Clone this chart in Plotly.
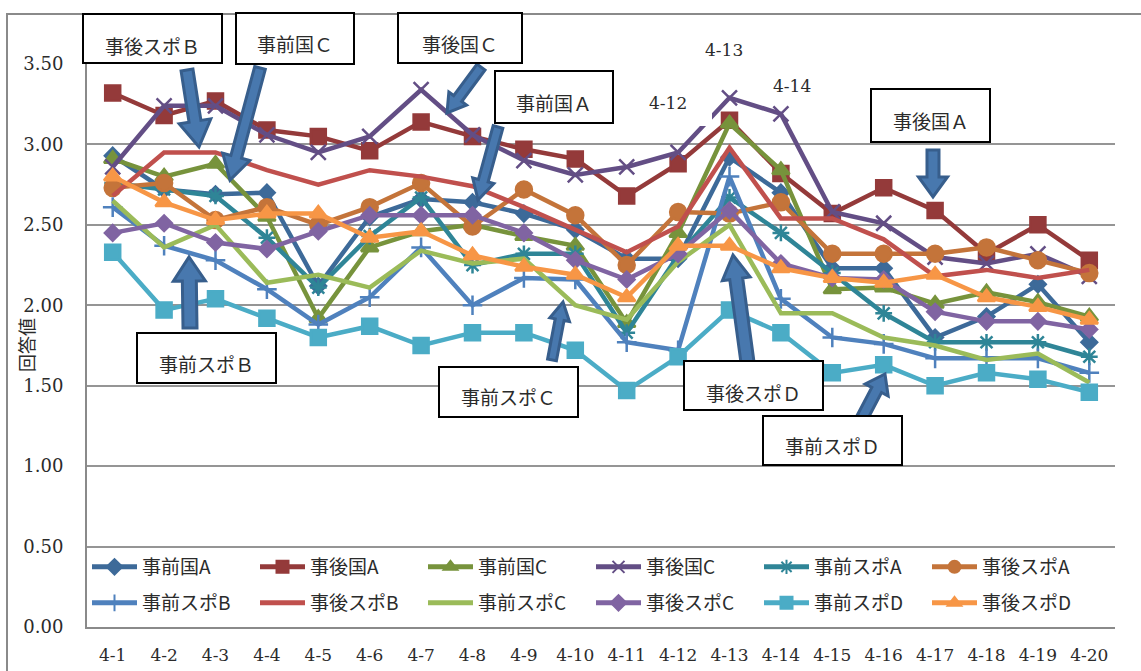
import math
import plotly.graph_objects as go

# Survey days
dates = ["4-1", "4-2", "4-3", "4-4", "4-5", "4-6", "4-7", "4-8", "4-9", "4-10",
         "4-11", "4-12", "4-13", "4-14", "4-15", "4-16", "4-17", "4-18", "4-19", "4-20"]

# Mean answer values per group
pre_koku_a = [2.93, 2.72, 2.69, 2.70, 2.12, 2.55, 2.66, 2.64, 2.57, 2.47,
              2.29, 2.29, 2.92, 2.70, 2.23, 2.23, 1.80, 1.93, 2.13, 1.77]
post_koku_a = [3.32, 3.18, 3.27, 3.09, 3.05, 2.96, 3.14, 3.05, 2.97, 2.91,
               2.68, 2.88, 3.15, 2.82, 2.57, 2.73, 2.59, 2.32, 2.50, 2.28]
pre_koku_c = [2.91, 2.80, 2.88, 2.55, 1.92, 2.36, 2.46, 2.50, 2.43, 2.37,
              1.89, 2.45, 3.13, 2.84, 2.10, 2.11, 2.01, 2.08, 2.02, 1.93]
post_koku_c = [2.86, 3.24, 3.24, 3.06, 2.95, 3.05, 3.34, 3.06, 2.90, 2.81,
               2.86, 2.95, 3.29, 3.19, 2.58, 2.51, 2.30, 2.26, 2.32, 2.18]
pre_spo_a = [2.76, 2.72, 2.68, 2.42, 2.11, 2.43, 2.67, 2.25, 2.32, 2.32,
             1.83, 2.31, 2.67, 2.45, 2.20, 1.95, 1.77, 1.77, 1.77, 1.68]
post_spo_a = [2.73, 2.76, 2.53, 2.61, 2.50, 2.61, 2.76, 2.49, 2.72, 2.56,
              2.25, 2.58, 2.57, 2.64, 2.32, 2.32, 2.32, 2.36, 2.28, 2.20]
pre_spo_b = [2.61, 2.37, 2.28, 2.10, 1.88, 2.05, 2.36, 2.00, 2.17, 2.16,
             1.77, 1.72, 2.80, 2.04, 1.80, 1.76, 1.67, 1.67, 1.67, 1.58]
post_spo_b = [2.68, 2.95, 2.95, 2.84, 2.75, 2.84, 2.80, 2.74, 2.61, 2.47,
              2.33, 2.49, 2.98, 2.54, 2.54, 2.41, 2.18, 2.22, 2.17, 2.22]
pre_spo_c = [2.65, 2.36, 2.50, 2.14, 2.19, 2.11, 2.34, 2.26, 2.29, 2.00,
             1.91, 2.27, 2.50, 1.95, 1.95, 1.80, 1.75, 1.66, 1.70, 1.52]
post_spo_c = [2.45, 2.51, 2.39, 2.35, 2.46, 2.56, 2.56, 2.56, 2.45, 2.28,
              2.16, 2.32, 2.59, 2.26, 2.17, 2.16, 1.96, 1.90, 1.90, 1.85]
pre_spo_d = [2.33, 1.97, 2.04, 1.92, 1.80, 1.87, 1.75, 1.83, 1.83, 1.72,
             1.47, 1.68, 1.97, 1.83, 1.58, 1.63, 1.50, 1.58, 1.54, 1.46]
post_spo_d = [2.80, 2.64, 2.53, 2.57, 2.57, 2.42, 2.46, 2.31, 2.24, 2.19,
              2.05, 2.37, 2.37, 2.23, 2.17, 2.14, 2.19, 2.05, 1.99, 1.91]

y_ticks = [0.0, 0.5, 1.0, 1.5, 2.0, 2.5, 3.0, 3.5]

# (name, values, colour, marker symbol, marker size, legend row)
series = [
    ("事前国A", pre_koku_a, "#3D6A99", "diamond", 12, "legend"),
    ("事後国A", post_koku_a, "#943A3A", "square", 15, "legend"),
    ("事前国C", pre_koku_c, "#77933C", "triangle-up", 15, "legend"),
    ("事後国C", post_koku_c, "#634E85", "x-thin-open", 15, "legend"),
    ("事前スポA", pre_spo_a, "#2F8597", "asterisk-open", 14, "legend"),
    ("事後スポA", post_spo_a, "#C4743A", "circle", 16, "legend"),
    ("事前スポB", pre_spo_b, "#4F81BD", "cross-thin-open", 14, "legend2"),
    ("事後スポB", post_spo_b, "#C0504D", None, 0, "legend2"),
    ("事前スポC", pre_spo_c, "#9BBB59", None, 0, "legend2"),
    ("事後スポC", post_spo_c, "#8064A2", "diamond", 12, "legend2"),
    ("事前スポD", pre_spo_d, "#4BACC6", "square", 15, "legend2"),
    ("事後スポD", post_spo_d, "#F79646", "triangle-up", 15, "legend2"),
]

W, H = 1141, 671
L, R, T, B = 87, 1115, 64, 627

JP = "Noto Sans CJK JP"
SERIF = "DejaVu Serif"


def px(x):
    return (x - L) / (R - L)


def py(y):
    return (B - y) / (B - T)


fig = go.Figure()
for name, vals, color, sym, size, lg in series:
    if sym is None:
        mode = "lines"
        marker = None
    else:
        mode = "lines+markers"
        marker = dict(symbol=sym, size=size, color=color,
                      line=dict(color=color, width=2.5))
    fig.add_trace(go.Scatter(
        x=dates, y=vals, name=name, mode=mode,
        line=dict(color=color, width=4.5),
        marker=marker, legend=lg,
    ))

shapes = []
annotations = []

# outer chart frame
shapes.append(dict(type="rect", xref="paper", yref="paper",
                   x0=px(7), x1=px(1170), y0=py(700), y1=py(14),
                   line=dict(color="#8A8A8A", width=2), layer="below"))

# gap behind the day labels on the top gridline
shapes.append(dict(type="rect", xref="paper", yref="paper",
                   x0=px(683), x1=px(832), y0=py(70), y1=py(40),
                   fillcolor="white", line=dict(width=0), layer="between"))
# white background of the 4-12 label
shapes.append(dict(type="rect", xref="paper", yref="paper",
                   x0=px(630), x1=px(712), y0=py(126), y1=py(82),
                   fillcolor="white", line=dict(width=0), layer="above"))


def block_arrow(x0, y0, x1, y1, ws, wh, hl):
    dx, dy = x1 - x0, y1 - y0
    n = math.hypot(dx, dy)
    ux, uy = dx / n, dy / n
    nx, ny = -uy, ux
    bx, by = x1 - ux * hl, y1 - uy * hl
    pts = [
        (x0 + nx * ws / 2, y0 + ny * ws / 2),
        (bx + nx * ws / 2, by + ny * ws / 2),
        (bx + nx * wh / 2, by + ny * wh / 2),
        (x1, y1),
        (bx - nx * wh / 2, by - ny * wh / 2),
        (bx - nx * ws / 2, by - ny * ws / 2),
        (x0 - nx * ws / 2, y0 - ny * ws / 2),
    ]
    path = "M " + " L ".join(f"{px(a):.5f},{py(b):.5f}" for a, b in pts) + " Z"
    return dict(type="path", xref="paper", yref="paper", path=path,
                fillcolor="#4878AE", line=dict(color="#375E8C", width=3),
                layer="above")


# callout arrows: tail -> tip (pixel positions), shaft width, head width, head length
arrows = [
    (187, 70, 199, 147, 12, 32, 26),
    (260, 68, 230, 180, 11, 28, 24),
    (481, 67, 447, 113, 10, 22, 18),
    (498, 127, 478, 200, 10, 22, 20),
    (933, 150, 933, 197, 12, 29, 20),
    (190, 328, 189, 257, 14, 32, 24),
    (552, 360, 563, 302, 9, 20, 18),
    (748, 366, 733, 255, 13, 28, 24),
    (862, 418, 885, 374, 11, 26, 18),
]
for a in arrows:
    shapes.append(block_arrow(*a))

# callout boxes: text, left, top, right, bottom, text y
boxes = [
    ("事後スポＢ", 83, 14, 222, 63, 45),
    ("事前国Ｃ", 236, 13, 354, 64, 43),
    ("事後国Ｃ", 398, 13, 522, 63, 43),
    ("事前国Ａ", 495, 71, 613, 123, 102),
    ("事後国Ａ", 871, 89, 990, 142, 120),
    ("事前スポＢ", 137, 333, 276, 383, 363),
    ("事前スポＣ", 439, 367, 578, 417, 397),
    ("事後スポＤ", 684, 361, 823, 410, 392),
    ("事前スポＤ", 763, 416, 902, 465, 445),
]
for text, x0, y0, x1, y1, ty in boxes:
    shapes.append(dict(type="rect", xref="paper", yref="paper",
                       x0=px(x0), x1=px(x1), y0=py(y1), y1=py(y0),
                       fillcolor="white", line=dict(color="black", width=2),
                       layer="above"))
    annotations.append(dict(text=text, xref="paper", yref="paper",
                            x=px((x0 + x1) / 2), y=py(ty), showarrow=False,
                            xanchor="center", yanchor="middle",
                            font=dict(family=JP, size=19, color="#2b2b2b")))

# day labels near the peak
for text, x, y in [("4-12", 668, 103), ("4-13", 724, 50), ("4-14", 792, 86)]:
    annotations.append(dict(text=text, xref="paper", yref="paper",
                            x=px(x), y=py(y), showarrow=False,
                            xanchor="center", yanchor="middle",
                            font=dict(family=SERIF, size=17, color="#2b2b2b")))

# value axis title
annotations.append(dict(text="回答値", xref="paper", yref="paper",
                        x=px(26), y=py(345), showarrow=False, textangle=-90,
                        xanchor="center", yanchor="middle",
                        font=dict(family=JP, size=18, color="#2b2b2b")))

legend_common = dict(
    orientation="h", xanchor="left", yanchor="middle",
    entrywidth=108, entrywidthmode="pixels",
    bgcolor="rgba(0,0,0,0)", itemwidth=45, itemsizing="constant",
    font=dict(family=JP, size=19, color="#2b2b2b"),
    itemclick=False, itemdoubleclick=False,
)

fig.update_layout(
    width=W, height=H,
    margin=dict(l=L, r=W - R, t=T, b=H - B, pad=0, autoexpand=False),
    paper_bgcolor="white", plot_bgcolor="white",
    showlegend=True,
    legend=dict(x=0, y=py(567), **legend_common),
    legend2=dict(x=0, y=py(603), **legend_common),
    xaxis=dict(
        type="category", categoryorder="array", categoryarray=dates,
        range=[-0.5, len(dates) - 0.5],
        showgrid=False, showline=True, linecolor="#8A8A8A", linewidth=2,
        ticks="", ticklabelstandoff=12,
        tickfont=dict(family=SERIF, size=17, color="#2b2b2b"),
    ),
    yaxis=dict(
        range=[0, 3.5], tickvals=y_ticks, tickformat=".2f",
        showgrid=True, gridcolor="#959595", gridwidth=1.5,
        showline=True, linecolor="#8A8A8A", linewidth=2,
        zeroline=False, ticks="", ticklabelstandoff=18,
        tickfont=dict(family=SERIF, size=18, color="#2b2b2b"),
    ),
    shapes=shapes,
    annotations=annotations,
)

fig.write_html("out.html")
